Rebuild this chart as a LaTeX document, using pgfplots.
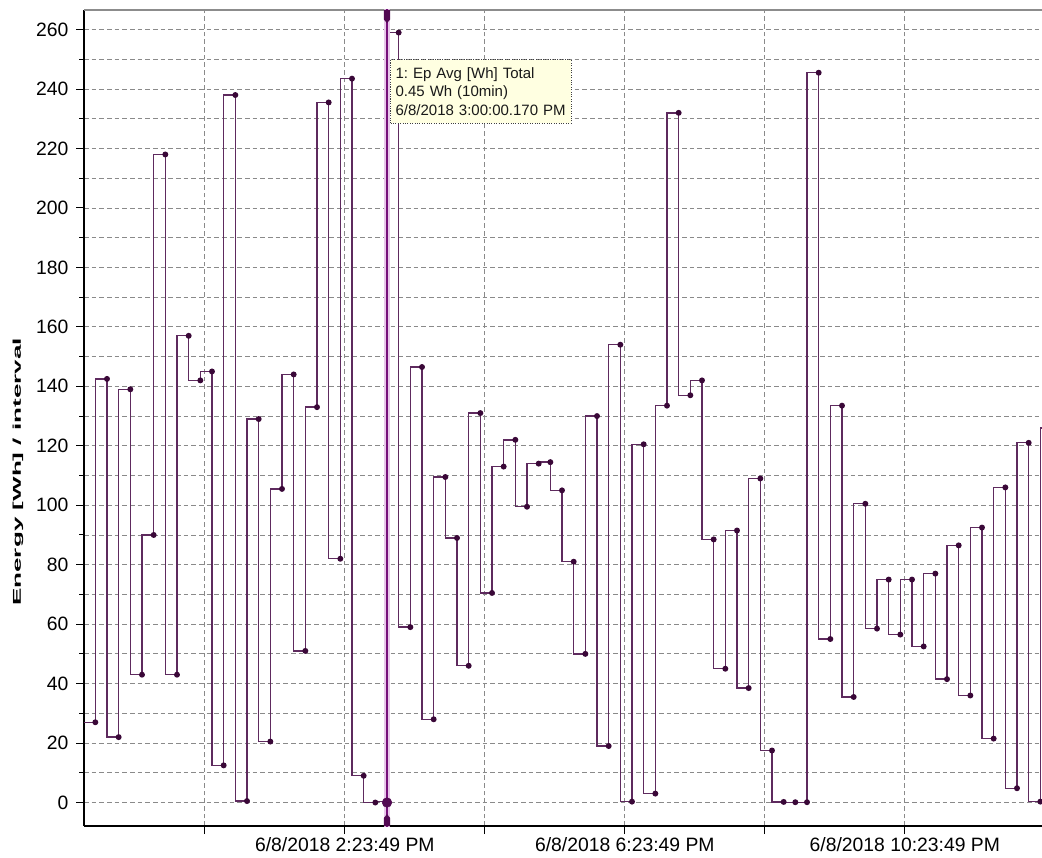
\documentclass[border=0pt]{standalone}
\usepackage{fontspec}
\setmainfont{Liberation Sans}
\usepackage{graphicx}
\usepackage{pgfplots}
\pgfplotsset{compat=1.18}
\usepackage{pgfplotstable}
\frenchspacing
\definecolor{stepline}{HTML}{5E2A5E}
\definecolor{stepmark}{HTML}{3A0838}
\definecolor{cursorc}{HTML}{76107A}
\definecolor{cursordark}{HTML}{520852}
\definecolor{cursorglow}{HTML}{E8C8EA}
\definecolor{gridgray}{HTML}{8A8A8A}
\definecolor{tipfill}{HTML}{FFFFE1}

% minutes since midnight, energy per 10-min interval [Wh]
\pgfplotstableread{
t v
640 82
650 27
660 142.5
670 22
680 139
690 43
700 90
710 218
720 43
730 157
740 142
750 145
760 12.5
770 238
780 0.5
790 129
800 20.5
810 105.5
820 144
830 51
840 133
850 235.5
860 82
870 243.5
880 9
890 0
900 0.45
910 259
920 59
930 146.5
940 28
950 109.5
960 89
970 46
980 131
990 70.5
1000 113
1010 122
1020 99.5
1030 114
1040 114.5
1050 105
1060 81
1070 50
1080 130
1090 19
1100 154
1110 0.3
1120 120.5
1130 3
1140 133.5
1150 232
1160 137
1170 142
1180 88.5
1190 45
1200 91.5
1210 38.5
1220 109
1230 17.5
1240 0.2
1250 0.1
1260 0.1
1270 245.5
1280 55
1290 133.5
1300 35.5
1310 100.5
1320 58.5
1330 75
1340 56.5
1350 75
1360 52.5
1370 77
1380 41.5
1390 86.5
1400 36
1410 92.5
1420 21.5
1430 106
1440 4.8
1450 121
1460 0.3
1470 126
}\energy

\begin{document}
\begin{tikzpicture}
\useasboundingbox (0,0) rectangle (781.5pt,642.75pt);
\begin{axis}[
  at={(63pt,23.25pt)}, anchor=south west,
  scale only axis, width=718.5pt, height=612pt,
  xmin=640.29, xmax=1461.43, ymin=-7.9, ymax=266.6,
  axis x line*=bottom, axis y line*=left,
  axis line style={black, line width=0.9pt},
  xtick={743.817,863.817,983.817,1103.817,1223.817,1343.817},
  xticklabels={,6/8/2018 2:23:49 PM,,6/8/2018 6:23:49 PM,,6/8/2018 10:23:49 PM},
  ytick={0,20,...,260},
  minor ytick={10,30,...,250},
  tick align=outside,
  major tick length=6pt, minor tick length=3.5pt,
  tick style={black, line width=0.75pt},
  xmajorgrids, ymajorgrids, yminorgrids,
  major grid style={gridgray, dash pattern=on 3.5pt off 2.25pt, line width=0.6pt},
  minor grid style={gridgray, dash pattern=on 3.5pt off 2.25pt, line width=0.6pt},
  ticklabel style={font=\fontsize{14.5}{17}\selectfont, inner sep=2.5pt},
  yticklabel style={xshift=-3pt},
  /pgf/number format/assume math mode=true,
  ylabel={\scalebox{2.3}[1]{Energy [Wh] / interval}},
  ylabel style={font=\bfseries\fontsize{8.5}{10}\selectfont, at={(axis description cs:-0.069,0.434)}, anchor=center},
  clip=true,
]
\draw[black!45, line width=0.9pt] (rel axis cs:0,1) -- (rel axis cs:1,1);
\addplot[const plot mark right, stepline, line width=1pt, mark=*, mark size=1.7pt,
  mark options={draw=stepmark, fill=stepmark}] table[x=t, y=v] {\energy};
% cursor at 3:00 PM
\addplot[cursorglow, line width=4pt, forget plot] coordinates {(900,-10) (900,270)};
\addplot[cursorc, line width=2.2pt, forget plot] coordinates {(900,-10) (900,270)};
\addplot[only marks, mark=*, mark size=3.6pt, mark options={draw=cursordark, fill=cursordark}, forget plot] coordinates {(900,0)};
\fill[cursordark] (axis cs:897.3,266.6) -- (axis cs:902.7,266.6) -- (axis cs:902.7,263.4) -- (axis cs:900,262.2) -- (axis cs:897.3,263.4) -- cycle;
\fill[cursordark] (axis cs:897.3,-7.9) -- (axis cs:902.7,-7.9) -- (axis cs:902.7,-5.2) -- (axis cs:900,-3.9) -- (axis cs:897.3,-5.2) -- cycle;
\node[anchor=north west, fill=tipfill, draw=black!75, densely dotted, line width=0.8pt,
  inner xsep=3.75pt, inner ysep=5.9pt, align=left, text width=128pt,
  font=\fontsize{11.25}{13.7}\selectfont, text=black!90]
  at (axis cs:902.6,250) {1: Ep Avg [Wh] Total\\0.45 Wh (10min)\\6/8/2018 3:00:00.170 PM};
\end{axis}
\end{tikzpicture}
\end{document}
